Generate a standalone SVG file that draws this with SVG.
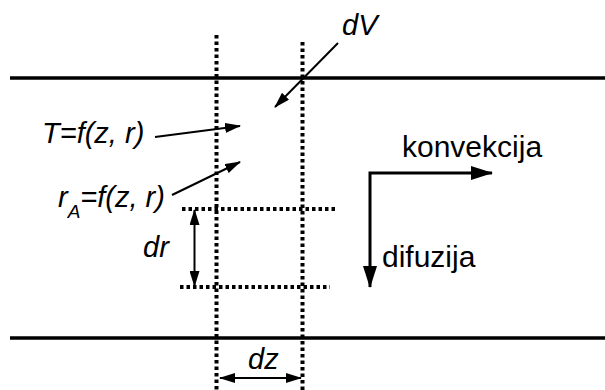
<svg xmlns="http://www.w3.org/2000/svg" width="605" height="390" viewBox="0 0 605 390">
<style>
text{font-family:"Liberation Sans",Arial,sans-serif;font-size:29px;fill:#000}
.it{font-style:italic}
.rg{font-size:30px}
.wall{stroke:#000;stroke-width:3.5;fill:none}
.dot{stroke:#000;stroke-width:4;stroke-dasharray:3.5 3;fill:none}
.thin{stroke:#000;stroke-width:2;fill:none}
.thick{stroke:#000;stroke-width:3;fill:none;stroke-linejoin:miter}
</style>
<defs>
<marker id="ah" markerUnits="userSpaceOnUse" markerWidth="16" markerHeight="10" refX="15" refY="5" orient="auto-start-reverse"><path d="M0,0 L16,5 L0,10 z" fill="#000"/></marker>
<marker id="ahb" markerUnits="userSpaceOnUse" markerWidth="22" markerHeight="14" refX="21" refY="7" orient="auto-start-reverse"><path d="M0,0 L22,7 L0,14 z" fill="#000"/></marker>
</defs>
<g id="walls">
<line class="wall" x1="10" y1="78" x2="605" y2="78"/>
<line class="wall" x1="10" y1="338" x2="605" y2="338"/>
</g>
<g id="grid">
<line class="dot" x1="216.5" y1="35" x2="216.5" y2="390"/>
<line class="dot" x1="302.5" y1="42" x2="302.5" y2="390"/>
<line class="dot" x1="182" y1="209" x2="335" y2="209"/>
<line class="dot" x1="180" y1="287" x2="330" y2="287"/>
</g>
<g id="labels">
<g id="dV"><text class="it" x="342" y="35">dV</text></g>
<g id="T"><text class="it" x="42" y="143">T=f(z, r)</text></g>
<g id="rA"><text class="it" x="58" y="207">r<tspan font-size="19" dy="11">A</tspan><tspan dy="-11">=f(z, r)</tspan></text></g>
<g id="dr"><text class="it" x="143" y="257">dr</text></g>
<g id="dz"><text class="it" x="248" y="369">dz</text></g>
<g id="konvekcija"><text class="rg" x="402" y="157">konvekcija</text></g>
<g id="difuzija"><text class="rg" x="382" y="267">difuzija</text></g>
</g>
<g id="connectors">
<line class="thin" x1="338" y1="43" x2="275" y2="107" marker-end="url(#ah)"/>
<line class="thin" x1="155" y1="137" x2="240" y2="126" marker-end="url(#ah)"/>
<line class="thin" x1="172" y1="195" x2="240" y2="162" marker-end="url(#ah)"/>
<line class="thin" x1="194.5" y1="210" x2="194.5" y2="286" marker-start="url(#ah)" marker-end="url(#ah)"/>
<line class="thin" x1="220" y1="378" x2="301" y2="378" marker-start="url(#ah)" marker-end="url(#ah)"/>
<path class="thick" d="M370,287 L370,173 L492,173" marker-start="url(#ahb)" marker-end="url(#ahb)"/>
</g>
</svg>
